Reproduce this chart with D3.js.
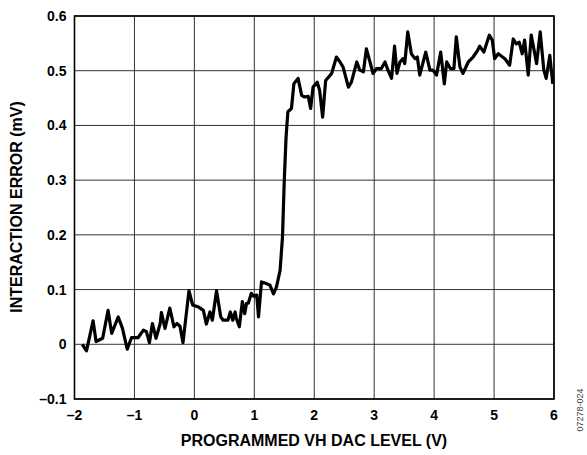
<!DOCTYPE html>
<html>
<head>
<meta charset="utf-8">
<script src="https://cdn.jsdelivr.net/npm/d3@7"></script>
<style>
  body { margin: 0; background: #fff; }
  text { font-family: "Liberation Sans", Arial, sans-serif; }
</style>
</head>
<body>
<div id="chart"></div>
<script>
// Data (x = VH DAC level in V, y = interaction error in mV)
const dacLevel = [
  -1.87, -1.80, -1.69, -1.64, -1.53, -1.44, -1.38, -1.27, -1.20, -1.12,
  -1.05, -0.94, -0.85, -0.80, -0.75, -0.70, -0.64, -0.57, -0.55, -0.49,
  -0.41, -0.34, -0.29, -0.24, -0.19, -0.09, -0.03, 0.07, 0.15, 0.20,
  0.26, 0.30, 0.37, 0.44, 0.48, 0.56, 0.60, 0.64, 0.68, 0.70,
  0.75, 0.80, 0.84, 0.87, 0.90, 0.95, 0.99, 1.04, 1.07, 1.12,
  1.20, 1.26, 1.32, 1.37, 1.43, 1.47, 1.50, 1.53, 1.56, 1.62,
  1.66, 1.73, 1.79, 1.84, 1.90, 1.94, 1.98, 2.05, 2.09, 2.14,
  2.19, 2.29, 2.37, 2.43, 2.48, 2.57, 2.62, 2.71, 2.76, 2.82,
  2.87, 2.93, 2.98, 3.04, 3.12, 3.18, 3.23, 3.29, 3.34, 3.38,
  3.43, 3.48, 3.51, 3.56, 3.62, 3.68, 3.72, 3.76, 3.86, 3.93,
  3.98, 4.04, 4.11, 4.17, 4.21, 4.27, 4.33, 4.37, 4.43, 4.48,
  4.57, 4.65, 4.72, 4.76, 4.83, 4.92, 4.97, 5.01, 5.07, 5.18,
  5.26, 5.32, 5.37, 5.42, 5.47, 5.51, 5.57, 5.62, 5.71, 5.77,
  5.83, 5.87, 5.93, 5.98
];
const errorMv = [
  0.000, -0.012, 0.043, 0.005, 0.011, 0.062, 0.020, 0.050, 0.029, -0.009,
  0.012, 0.012, 0.026, 0.023, 0.003, 0.038, 0.011, 0.038, 0.058, 0.029,
  0.066, 0.032, 0.038, 0.033, 0.003, 0.098, 0.072, 0.068, 0.062, 0.037,
  0.059, 0.044, 0.098, 0.050, 0.044, 0.044, 0.059, 0.044, 0.059, 0.047,
  0.032, 0.078, 0.056, 0.075, 0.075, 0.093, 0.088, 0.090, 0.050, 0.114,
  0.111, 0.108, 0.092, 0.105, 0.135, 0.196, 0.300, 0.379, 0.425, 0.431,
  0.476, 0.486, 0.455, 0.452, 0.453, 0.431, 0.470, 0.479, 0.464, 0.415,
  0.482, 0.495, 0.525, 0.516, 0.507, 0.470, 0.479, 0.516, 0.501, 0.498,
  0.540, 0.516, 0.495, 0.504, 0.504, 0.516, 0.501, 0.486, 0.545, 0.495,
  0.516, 0.522, 0.513, 0.571, 0.531, 0.522, 0.525, 0.492, 0.534, 0.501,
  0.501, 0.492, 0.534, 0.476, 0.516, 0.504, 0.504, 0.562, 0.507, 0.495,
  0.516, 0.525, 0.536, 0.545, 0.534, 0.565, 0.556, 0.522, 0.531, 0.522,
  0.510, 0.558, 0.549, 0.552, 0.531, 0.556, 0.492, 0.565, 0.513, 0.571,
  0.501, 0.486, 0.528, 0.476
];
const xTicks = [-2, -1, 0, 1, 2, 3, 4, 5, 6];
const yTicks = [-0.1, 0, 0.1, 0.2, 0.3, 0.4, 0.5, 0.6];

const width = 587;
const height = 455;
const margin = { left: 74.5, right: 33, top: 16, bottom: 56 };

const svg = d3.select("#chart")
  .append("svg")
  .attr("width", width)
  .attr("height", height);

const x = d3.scaleLinear()
  .domain([-2, 6])
  .range([margin.left, width - margin.right]);

const y = d3.scaleLinear()
  .domain([-0.1, 0.6])
  .range([height - margin.bottom, margin.top]);

const fmt = v => (v < 0 ? "\u2013" + Math.abs(v) : String(v));

// grid lines
svg.append("g")
  .selectAll("line")
  .data(xTicks)
  .join("line")
  .attr("x1", d => x(d)).attr("x2", d => x(d))
  .attr("y1", y(-0.1)).attr("y2", y(0.6))
  .attr("stroke", "#333")
  .attr("stroke-width", 1);

svg.append("g")
  .selectAll("line")
  .data(yTicks)
  .join("line")
  .attr("x1", x(-2)).attr("x2", x(6))
  .attr("y1", d => y(d)).attr("y2", d => y(d))
  .attr("stroke", "#333")
  .attr("stroke-width", 1);

// frame
svg.append("rect")
  .attr("x", x(-2)).attr("y", y(0.6))
  .attr("width", x(6) - x(-2))
  .attr("height", y(-0.1) - y(0.6))
  .attr("fill", "none")
  .attr("stroke", "#000")
  .attr("stroke-width", 1.6);

// tick labels
svg.append("g")
  .selectAll("text")
  .data(xTicks)
  .join("text")
  .attr("x", d => x(d))
  .attr("y", y(-0.1) + 21)
  .attr("text-anchor", "middle")
  .attr("font-size", 14)
  .attr("font-weight", "bold")
  .text(fmt);

svg.append("g")
  .selectAll("text")
  .data(yTicks)
  .join("text")
  .attr("x", x(-2) - 8)
  .attr("y", d => y(d) + 5)
  .attr("text-anchor", "end")
  .attr("font-size", 14)
  .attr("font-weight", "bold")
  .text(fmt);

// data line
const line = d3.line()
  .x((d, i) => x(dacLevel[i]))
  .y(d => y(d));

svg.append("path")
  .datum(errorMv)
  .attr("d", line)
  .attr("fill", "none")
  .attr("stroke", "#000")
  .attr("stroke-width", 3.2)
  .attr("stroke-linejoin", "round");

// axis titles
svg.append("text")
  .attr("x", 314)
  .attr("y", 446)
  .attr("text-anchor", "middle")
  .attr("font-size", 16)
  .attr("font-weight", "bold")
  .text("PROGRAMMED VH DAC LEVEL (V)");

svg.append("text")
  .attr("transform", "translate(22,207) rotate(-90)")
  .attr("text-anchor", "middle")
  .attr("font-size", 16)
  .attr("font-weight", "bold")
  .text("INTERACTION ERROR (mV)");

svg.append("text")
  .attr("transform", "translate(583,410) rotate(-90)")
  .attr("text-anchor", "middle")
  .attr("font-size", 9)
  .attr("fill", "#444")
  .text("07278-024");
</script>
</body>
</html>
